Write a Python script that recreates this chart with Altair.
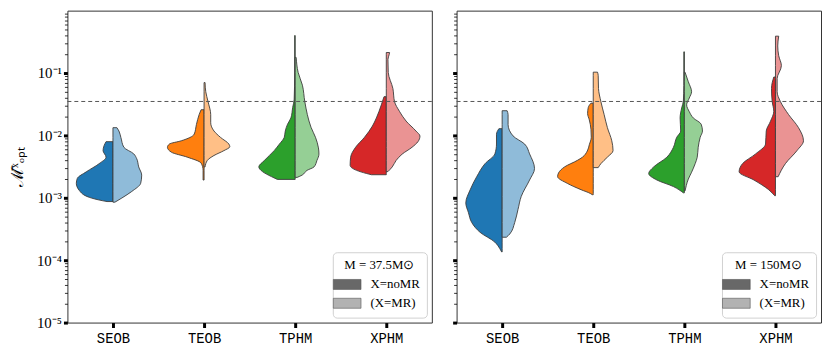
import json
import altair as alt
import pandas as pd

categories = ["SEOB", "TEOB", "TPHM", "XPHM"]
variants = ["noMR", "MR"]
legend_labels = ["X=noMR", "(X=MR)"]
legend_colors = ["#686868", "#b2b2b2"]
dark_colors = ["#1f77b4", "#ff7f0e", "#2ca02c", "#d62728"]
light_colors = ["#8fbbd9", "#ffbf86", "#95cf95", "#ea9393"]
panel_titles = ["M = 37.5M⊙", "M = 150M⊙"]
threshold = 0.035
band_px = 92.0  # half-widths below are read in pixels of a 92 px category band

# (log10 value, half width), top to bottom
A_SEOB_noMR = [(-2.10, 7), (-2.165, 9), (-2.244, 10), (-2.348, 7), (-2.453, 14), (-2.584, 27), (-2.689, 36),
               (-2.767, 37), (-2.882, 34), (-2.992, 24), (-3.045, 11), (-3.06, 6)]
A_SEOB_MR = [(-1.876, 4), (-1.929, 6), (-2.033, 8), (-2.190, 11), (-2.296, 21), (-2.374, 24), (-2.505, 26),
             (-2.636, 29), (-2.767, 28), (-2.898, 19), (-3.003, 9), (-3.07, 2)]
A_TEOB_noMR = [(-1.588, 3), (-1.667, 5), (-1.824, 7.7), (-1.981, 10), (-2.086, 23), (-2.138, 35), (-2.190, 37),
               (-2.269, 33), (-2.348, 17), (-2.443, 3), (-2.558, 1), (-2.715, 1)]
A_TEOB_MR = [(-1.153, 1), (-1.300, 1.7), (-1.457, 4), (-1.667, 6.7), (-1.797, 6.7), (-1.929, 10), (-2.033, 16.7),
             (-2.138, 25), (-2.181, 26), (-2.244, 20), (-2.322, 10), (-2.401, 3.3), (-2.505, 1)]
A_TPHM_noMR = [(-0.399, 0.5), (-1.0, 0.5), (-1.42, 1), (-1.55, 2.5), (-1.72, 4.3), (-1.82, 7.7), (-1.93, 10),
               (-2.03, 11), (-2.14, 16), (-2.24, 21), (-2.40, 31), (-2.505, 36.7), (-2.58, 33), (-2.66, 24),
               (-2.705, 18)]
A_TPHM_MR = [(-0.75, 1), (-0.99, 3), (-1.195, 7.3), (-1.457, 9.7), (-1.667, 12.3), (-1.87, 16), (-2.03, 20.5),
             (-2.20, 23.5), (-2.30, 24), (-2.40, 22), (-2.505, 19), (-2.56, 12), (-2.636, 7), (-2.673, 2)]
A_XPHM_noMR = [(-1.379, 2.3), (-1.51, 5), (-1.72, 10), (-1.85, 14), (-2.03, 22), (-2.19, 31), (-2.35, 36),
               (-2.48, 36.5), (-2.56, 30), (-2.61, 20), (-2.63, 15)]
A_XPHM_MR = [(-0.671, 3.3), (-0.70, 3), (-0.78, 1.7), (-0.99, 2), (-1.25, 6.7), (-1.457, 8.3), (-1.614, 13.3),
             (-1.77, 20), (-1.93, 30), (-2.01, 34), (-2.10, 32), (-2.19, 26), (-2.30, 16), (-2.40, 10),
             (-2.505, 6), (-2.58, 1.7)]

B_SEOB_noMR = [(-1.892, 3.3), (-1.981, 5.7), (-2.138, 5.7), (-2.296, 7.3), (-2.453, 17.3), (-2.662, 25.7),
               (-2.872, 32.3), (-3.082, 36.7), (-3.239, 34), (-3.396, 30.7), (-3.553, 22.3), (-3.711, 7.3),
               (-3.816, 2.3), (-3.868, 0.5)]
B_SEOB_MR = [(-1.604, 5), (-1.667, 6), (-1.824, 6), (-2.008, 11), (-2.138, 22.7), (-2.296, 27.7), (-2.531, 32.7),
             (-2.715, 27.7), (-2.977, 19.3), (-3.187, 16), (-3.396, 12.7), (-3.580, 7.7), (-3.632, 4.3)]
B_TEOB_noMR = [(-1.483, 2.3), (-1.55, 5), (-1.65, 5.7), (-1.75, 4), (-1.90, 2.3), (-2.03, 2), (-2.15, 4),
               (-2.25, 6), (-2.35, 11), (-2.40, 16), (-2.505, 29), (-2.60, 35), (-2.66, 36), (-2.77, 26),
               (-2.87, 12.3), (-2.93, 3), (-2.95, 1)]
B_TEOB_MR = [(-0.986, 4.3), (-1.038, 5), (-1.247, 5.3), (-1.457, 7.7), (-1.667, 11), (-1.876, 14.3),
             (-2.086, 18.7), (-2.244, 20), (-2.348, 14.3), (-2.453, 7.7), (-2.516, 5)]
B_TPHM_noMR = [(-0.66, 0.5), (-1.2, 0.5), (-1.45, 1), (-1.56, 2.7), (-1.72, 4.3), (-1.93, 3.7), (-2.03, 7.7),
               (-2.19, 11), (-2.35, 17.7), (-2.505, 31), (-2.61, 36), (-2.715, 27.7), (-2.82, 11), (-2.92, 1)]
B_TPHM_MR = [(-0.986, 0.7), (-1.14, 4), (-1.30, 7.3), (-1.40, 5), (-1.51, 2.3), (-1.62, 5), (-1.72, 9),
             (-1.82, 17), (-1.93, 18.3), (-2.03, 16), (-2.19, 14), (-2.35, 13), (-2.45, 11), (-2.60, 7),
             (-2.70, 4), (-2.80, 2), (-2.89, 0.7)]
B_XPHM_noMR = [(-1.064, 1.7), (-1.247, 4), (-1.457, 3.3), (-1.614, 1.7), (-1.772, 5), (-1.929, 9.3),
               (-2.138, 10), (-2.296, 20), (-2.453, 33.3), (-2.584, 36.7), (-2.715, 21.7), (-2.872, 6.7),
               (-2.967, 0.7)]
B_XPHM_MR = [(-0.409, 3.3), (-0.566, 2.3), (-0.723, 3.3), (-0.881, 6), (-1.09, 1.7), (-1.30, 1.7), (-1.457, 5),
             (-1.667, 13.3), (-1.876, 23.3), (-2.086, 28.3), (-2.244, 21.7), (-2.453, 10), (-2.662, 2.7)]

panels = [
    {"SEOB": (A_SEOB_noMR, A_SEOB_MR), "TEOB": (A_TEOB_noMR, A_TEOB_MR),
     "TPHM": (A_TPHM_noMR, A_TPHM_MR), "XPHM": (A_XPHM_noMR, A_XPHM_MR)},
    {"SEOB": (B_SEOB_noMR, B_SEOB_MR), "TEOB": (B_TEOB_noMR, B_TEOB_MR),
     "TPHM": (B_TPHM_noMR, B_TPHM_MR), "XPHM": (B_XPHM_noMR, B_XPHM_MR)},
]

keys, colors = [], []
for ci, cat in enumerate(categories):
    keys += [cat + "|noMR", cat + "|MR"]
    colors += [dark_colors[ci], light_colors[ci]]

majors = [1e-5, 1e-4, 1e-3, 1e-2, 1e-1]
minors = [m * d for d in majors for m in range(2, 10)]
tick_values = sorted(majors + minors)
is_major = "abs(log(datum.value)/LN10 - round(log(datum.value)/LN10)) < 1e-6"
sup = "({'-1':'⁻¹','-2':'⁻²','-3':'⁻³','-4':'⁻⁴','-5':'⁻⁵','0':'⁰'})[''+round(log(datum.value)/LN10)]"
y_label_expr = f"{is_major} ? '10' + {sup} : ''"

yscale = alt.Scale(type="log", domain=[1e-5, 1], nice=False)
xscale = alt.Scale(domain=[-0.5, 3.5], nice=False, zero=False)
x_label_expr = json.dumps(categories) + "[round(datum.value)]"

SERIF = "Liberation Serif"


def make_panel(pi):
    rows = []
    for ci, cat in enumerate(categories):
        for vi, var in enumerate(variants):
            prof = panels[pi][cat][vi]
            for lg, w in prof:
                hw = w / band_px
                if var == "noMR":
                    x0, x1 = ci - hw, ci
                else:
                    x0, x1 = ci, ci + hw
                rows.append({"key": cat + "|" + var, "y": 10 ** lg, "x": x0, "x2": x1})
    df = pd.DataFrame(rows)

    yaxis = alt.Axis(
        values=tick_values, labelExpr=y_label_expr, labels=(pi == 0),
        title="ℳ̄ˣₒₚₜ" if pi == 0 else "",
        titleFont=SERIF, titleFontSize=17, titleFontWeight="normal", titleColor="black", titlePadding=10,
        labelFont=SERIF, labelFontSize=15, labelColor="black", labelPadding=2,
        grid=False, domain=False, tickColor="black",
        tickSize={"condition": {"test": is_major, "value": 4}, "value": 3},
        tickWidth={"condition": {"test": is_major, "value": 3}, "value": 0.8},
    )
    xaxis = alt.Axis(values=[0, 1, 2, 3], labelExpr=x_label_expr, title="", grid=False, domain=False,
                     tickSize=5, tickWidth=3, tickColor="black", labelFont="Liberation Mono",
                     labelFontSize=14, labelColor="black", labelPadding=4)

    violins = alt.Chart(df).mark_area(
        orient="horizontal", interpolate="monotone", stroke="#3c3c3c", strokeWidth=0.9
    ).encode(
        y=alt.Y("y:Q", scale=yscale, axis=yaxis),
        x=alt.X("x:Q", scale=xscale, axis=xaxis, stack=None),
        x2="x2:Q",
        color=alt.Color("key:N", scale=alt.Scale(domain=keys, range=colors), legend=None),
        detail="key:N",
    )

    rule = alt.Chart(pd.DataFrame({"y": [threshold]})).mark_rule(
        strokeDash=[4, 3], color="#555555", strokeWidth=1
    ).encode(y=alt.Y("y:Q", scale=yscale, axis=yaxis))

    leg_df = pd.DataFrame({"label": legend_labels, "x": [10, 10], "x2": [11, 11],
                           "y": [1e-8, 1e-8], "y2": [2e-8, 2e-8]})
    legend_layer = alt.Chart(leg_df).mark_rect(clip=True).encode(
        x=alt.X("x:Q", scale=xscale, axis=xaxis), x2="x2:Q",
        y=alt.Y("y:Q", scale=yscale, axis=yaxis), y2="y2:Q",
        fill=alt.Fill("label:N", scale=alt.Scale(domain=legend_labels, range=legend_colors),
                      legend=alt.Legend(
                          title=panel_titles[pi], orient="bottom-right", offset=5,
                          fillColor="white", strokeColor="#d0d0d0", cornerRadius=4, padding=7,
                          titleFont=SERIF, titleFontSize=13, titleFontWeight="normal", titleColor="black",
                          titleAnchor="middle", titlePadding=5,
                          labelFont=SERIF, labelFontSize=13, labelColor="black", labelOffset=16,
                          symbolType="M-2,-0.72H2V0.72H-2Z", symbolSize=196,
                          symbolStrokeColor="#555555", symbolStrokeWidth=0.6, rowPadding=4)),
    )

    return alt.layer(violins, rule, legend_layer).properties(width=368, height=315)


chart = alt.hconcat(make_panel(0), make_panel(1), spacing=18).resolve_scale(
    fill="independent", color="independent"
).resolve_legend(fill="independent").configure_view(
    stroke="#333333", strokeWidth=1
).properties(padding=0)

chart.save("out.html", embed_options={"renderer": "svg", "actions": False})
